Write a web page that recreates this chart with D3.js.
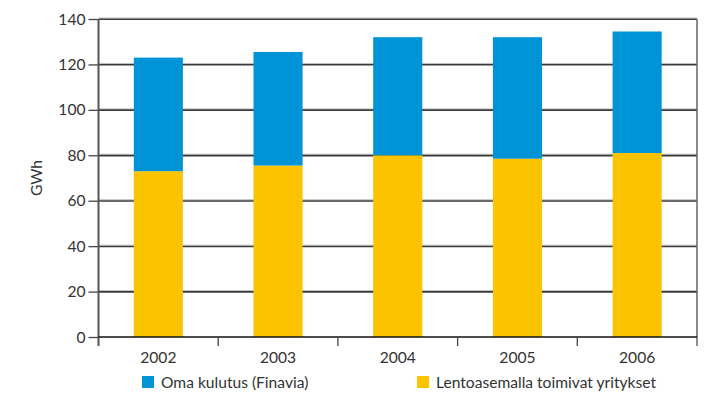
<!DOCTYPE html>
<html>
<head>
<meta charset="utf-8">
<script src="https://cdn.jsdelivr.net/npm/d3@7"></script>
<style>
  html, body { margin: 0; padding: 0; background: #fff; }
  svg { display: block; }
  text { font-family: Lato, "Open Sans", sans-serif; fill: #333; }
</style>
</head>
<body>
<svg id="chart" width="706" height="395"></svg>
<script>
// Airport electricity consumption, GWh
const years = ["2002", "2003", "2004", "2005", "2006"];
const companies = [73, 75.5, 80, 78.5, 81];     // Lentoasemalla toimivat yritykset
const ownUse = [50, 50, 52, 53.5, 53.5];         // Oma kulutus (Finavia)
const yTicks = [0, 20, 40, 60, 80, 100, 120, 140];
const seriesNames = ["Oma kulutus (Finavia)", "Lentoasemalla toimivat yritykset"];
const colors = { own: "#0093d5", comp: "#fcc300" };
const fontSize = "15.6px";

const svg = d3.select("#chart");
const plotLeft = 98.5, plotRight = 697, plotTop = 19, plotBottom = 337;

const x = d3.scaleBand().domain(years).range([plotLeft, plotRight]).paddingInner(0.59).paddingOuter(0.295);
const y = d3.scaleLinear().domain([0, 140]).range([plotBottom, plotTop]);

// horizontal grid lines
const grid = svg.append("g");
yTicks.filter(t => t > 0).forEach(t => {
  grid.append("line").attr("x1", plotLeft).attr("x2", plotRight)
    .attr("y1", y(t) - 1).attr("y2", y(t) - 1)
    .attr("stroke", "#bdbdbd").attr("stroke-width", 1);
  grid.append("line").attr("x1", plotLeft).attr("x2", plotRight)
    .attr("y1", y(t) + 0.3).attr("y2", y(t) + 0.3)
    .attr("stroke", "#3a3a3a").attr("stroke-width", 1.6);
});

// stacked bars
const rows = years.map((yr, i) => ({ year: yr, comp: companies[i], own: ownUse[i] }));
const stack = d3.stack().keys(["comp", "own"])(rows);
svg.append("g").selectAll("g").data(stack).join("g")
  .attr("fill", d => colors[d.key])
  .selectAll("rect").data(d => d).join("rect")
  .attr("x", d => x(d.data.year))
  .attr("width", x.bandwidth())
  .attr("y", d => y(d[1]))
  .attr("height", d => y(d[0]) - y(d[1]));

// right border
svg.append("line").attr("x1", plotRight).attr("x2", plotRight)
  .attr("y1", plotTop).attr("y2", plotBottom + 9)
  .attr("stroke", "#666").attr("stroke-width", 1.5);

// y axis
const yAxis = svg.append("g").attr("transform", `translate(${plotLeft},0)`)
  .call(d3.axisLeft(y).tickValues(yTicks).tickSize(10).tickPadding(3));
yAxis.select(".domain").remove();
yAxis.selectAll(".tick line").attr("stroke", "#444").attr("stroke-width", 1.3);
yAxis.selectAll(".tick text").style("font-size", fontSize).attr("fill", "#333");
svg.append("line").attr("x1", plotLeft).attr("x2", plotLeft)
  .attr("y1", plotTop).attr("y2", plotBottom + 9)
  .attr("stroke", "#555").attr("stroke-width", 2);

// x axis: ticks at category boundaries
const xAxisG = svg.append("g");
xAxisG.append("line").attr("x1", plotLeft).attr("x2", plotRight)
  .attr("y1", plotBottom).attr("y2", plotBottom)
  .attr("stroke", "#111").attr("stroke-width", 1.6);
years.forEach((yr, i) => {
  if (i > 0) {
    const bx = x(yr) - x.step() * x.paddingInner() / 2;
    xAxisG.append("line").attr("x1", bx).attr("x2", bx)
      .attr("y1", plotBottom).attr("y2", plotBottom + 9)
      .attr("stroke", "#444").attr("stroke-width", 1.3);
  }
  xAxisG.append("text").attr("x", x(yr) + x.bandwidth() / 2).attr("y", 363)
    .attr("text-anchor", "middle").style("font-size", fontSize).text(yr);
});

// y axis title
svg.append("text").attr("transform", "translate(42,178) rotate(-90)")
  .attr("text-anchor", "middle").style("font-size", fontSize).text("GWh");

// legend
const legend = [
  { name: seriesNames[0], color: colors.own, x: 142 },
  { name: seriesNames[1], color: colors.comp, x: 417 }
];
legend.forEach(l => {
  svg.append("rect").attr("x", l.x).attr("y", 376).attr("width", 12).attr("height", 12).attr("fill", l.color);
  svg.append("text").attr("x", l.x + 19).attr("y", 388).style("font-size", fontSize).text(l.name);
});
</script>
</body>
</html>
